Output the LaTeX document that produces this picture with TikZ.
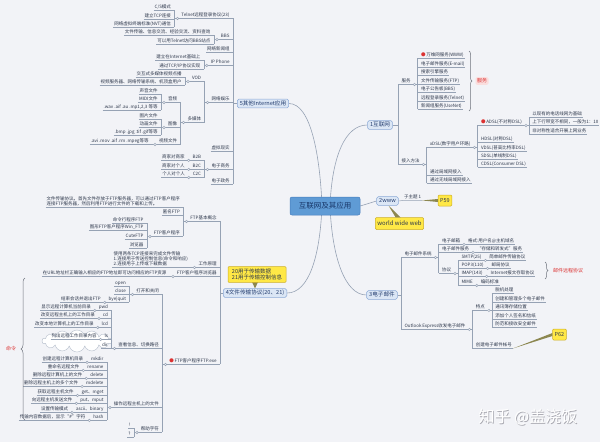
\documentclass[tikz,border=0pt]{standalone}
\usepackage{fontspec}
\newfontfamily\cjk{Noto Sans CJK SC}
\usetikzlibrary{calc,decorations.pathreplacing,shapes.symbols}
\definecolor{bgc}{RGB}{242,243,247}
\definecolor{linec}{RGB}{150,162,180}
\definecolor{txt}{RGB}{45,55,75}
\definecolor{mainfill}{RGB}{219,230,245}
\definecolor{maindraw}{RGB}{140,170,215}
\definecolor{maintext}{RGB}{35,60,110}
\definecolor{cfill}{RGB}{95,155,213}
\definecolor{cdraw}{RGB}{70,125,190}
\definecolor{ctext}{RGB}{25,55,105}
\definecolor{yfill}{RGB}{255,232,70}
\definecolor{ydraw}{RGB}{205,175,40}
\definecolor{olivec}{RGB}{140,135,80}
\definecolor{redc}{RGB}{220,50,50}
\definecolor{pinkc}{RGB}{250,222,222}
\definecolor{wmc}{RGB}{170,170,178}
\definecolor{bracec}{RGB}{110,115,125}
\pgfdeclarelayer{back}
\pgfsetlayers{back,main}
\newcommand\fsm{\fontsize{4.5}{5.2}\selectfont}
\tikzset{
 leaf/.style={font=\cjk\fsm, text=txt, inner xsep=0.8pt, inner ysep=1pt, text height=3.6pt, text depth=0.9pt},
 leafm/.style={font=\cjk\fontsize{4.5}{5}\selectfont, text=txt, inner sep=1pt, align=left},
 conn/.style={draw=linec, line width=0.5pt},
 knob/.style={circle, draw=linec, fill=bgc, inner sep=0pt, minimum size=2.6pt, line width=0.45pt},
 mainbox/.style={draw=maindraw, fill=mainfill, rounded corners=1.5pt, font=\cjk\fontsize{5.6}{6.5}\selectfont, text=maintext, inner xsep=2.5pt, inner ysep=1.5pt, text height=4.4pt, text depth=1.2pt, line width=0.5pt},
 ybox/.style={draw=ydraw, fill=yfill, rounded corners=1pt, text=txt, line width=0.5pt},
 bracedeco/.style={draw=bracec, line width=0.5pt, decorate, decoration={brace, amplitude=3pt}},
 wedge/.style={fill=olivec},
 wmark/.style={font=\cjk\fontsize{16}{18}\selectfont, inner sep=0pt},
}
\newcommand\kidL[4]{%
  \node[leaf,anchor=east] (#1) at ($(#2 |- 0,#3)+(-2.5,0)$) {#4};
  \draw[conn] (#1.south west) -- (#2 |- #1.south);}
\newcommand\pairL[5]{%
  \node[leaf,anchor=east] (#1) at ($(#2 |- 0,#3)+(-2.5,0)$) {#4};
  \node[leaf,anchor=east] (#1d) at ($(#1.west)+(-6,0)$) {#5};
  \draw[conn] (#1d.south west) -- (#2 |- #1.south);
  \node[knob] (#1k) at ($(#1.south west)+(-3,0)$) {};}
\newcommand\parL[5]{%
  \kidL{#1}{#2}{#3}{#4}%
  \coordinate (#5) at ($(#1.south west)+(-6,0)$);
  \draw[conn] (#1.south west) -- (#5);
  \node[knob] (#1k) at ($(#1.south west)+(-3,0)$) {};}
\newcommand\kidR[4]{%
  \node[leaf,anchor=west] (#1) at ($(#2 |- 0,#3)+(2.5,0)$) {#4};
  \draw[conn] (#2 |- #1.south) -- (#1.south east);}
\newcommand\pairR[5]{%
  \node[leaf,anchor=west] (#1) at ($(#2 |- 0,#3)+(2.5,0)$) {#4};
  \node[leaf,anchor=west] (#1d) at ($(#1.east)+(6,0)$) {#5};
  \draw[conn] (#2 |- #1.south) -- (#1d.south east);
  \node[knob] (#1k) at ($(#1.south east)+(3,0)$) {};}
\newcommand\parR[5]{%
  \kidR{#1}{#2}{#3}{#4}%
  \coordinate (#5) at ($(#1.south east)+(6,0)$);
  \draw[conn] (#1.south east) -- (#5);
  \node[knob] (#1k) at ($(#1.south east)+(3,0)$) {};}
\newcommand\busv[3]{\draw[conn] (#1 |- #2.south) -- (#1 |- #3.south);}

\begin{document}
\begin{tikzpicture}[x=1pt,y=-1pt]
\useasboundingbox (0,0) rectangle (600,442);
\begin{pgfonlayer}{back}
\fill[bgc] (0,0) rectangle (600,442);
\end{pgfonlayer}

% ---------- central and main topics ----------
\node[draw=cdraw, fill=cfill, rounded corners=2pt, minimum width=70pt, minimum height=18pt, inner sep=0pt, font=\cjk\fontsize{7.5}{8}\selectfont, text=ctext, line width=0.5pt] (ctr) at (325,206) {互联网及其应用};
\node[mainbox] (n1) at (380,125) {1互联网};
\node[mainbox] (n2) at (387.5,201) {2www};
\node[mainbox] (n3) at (382,295) {3电子邮件};
\node[mainbox, anchor=west] (n4) at (223,293) {4文件传输协议(20、21)};
\node[mainbox, anchor=west] (n5) at (237,103.5) {5其他Internet应用};

\begin{pgfonlayer}{back}
\draw[conn, line width=0.6pt] (n5.east) .. controls +(22,0) and +(-2,-50) .. ([xshift=-3pt]ctr.center);
\draw[conn, line width=0.6pt] (n1.west) .. controls +(-22,0) and +(2,-50) .. ([xshift=5pt]ctr.center);
\draw[conn, line width=0.6pt] (n4.east) .. controls +(22,0) and +(-2,50) .. ([xshift=-3pt]ctr.center);
\draw[conn, line width=0.6pt] (n3.west) .. controls +(-22,0) and +(2,50) .. ([xshift=5pt]ctr.center);
\draw[conn, line width=0.6pt] (ctr.east) -- (n2.west);
\end{pgfonlayer}

% ---------- 5 其他Internet应用 ----------
\coordinate (B5) at (233,0);
\draw[conn] (n5.west) -- (B5 |- n5.west);
\parL{telnet}{B5}{15}{Telnet远程登录协议(23)}{Btel}
\kidL{tcs}{Btel}{7}{C/S模式}
\kidL{ttcp}{Btel}{16}{建立TCP连接}
\kidL{tnvt}{Btel}{24}{网络虚拟终端标准(NVT)通信}
\busv{Btel}{tcs}{tnvt}
\parL{bbs}{B5}{36}{BBS}{Bbbs}
\kidL{bbsa}{Bbbs}{32}{文件传输、信息交流、经验交流、资料查询}
\kidL{bbsb}{Bbbs}{41}{可以用Telnet访问BBS站点}
\busv{Bbbs}{bbsa}{bbsb}
\kidL{news}{B5}{49}{网络新闻组}
\parL{ipp}{B5}{62}{IP Phone}{Bipp}
\kidL{ipa}{Bipp}{57}{建立在Internet基础上}
\kidL{ipb}{Bipp}{66}{通过TCP/IP协议实现}
\busv{Bipp}{ipa}{ipb}
\parL{ent}{B5}{99}{网络娱乐}{Bent}
\parL{vod}{Bent}{78}{VOD}{Bvod}
\kidL{voda}{Bvod}{74}{交互式多媒体视频点播}
\kidL{vodb}{Bvod}{82}{视频服务器、网络传输系统、机顶盒用户}
\busv{Bvod}{voda}{vodb}
\parL{mm}{Bent}{119}{多媒体}{Bmm}
\busv{Bent}{vod}{mm}
\parL{aud}{Bmm}{99}{音频}{Baud}
\kidL{auda}{Baud}{91}{声音文件}
\kidL{audb}{Baud}{99}{MIDI文件}
\kidL{audc}{Baud}{107}{.wav .aif .au .mp1,2,3 等等}
\busv{Baud}{auda}{audc}
\parL{img}{Bmm}{124}{图像}{Bimg}
\kidL{imga}{Bimg}{116}{图片文件}
\kidL{imgb}{Bimg}{124}{动画文件}
\kidL{imgc}{Bimg}{132}{.bmp .jpg .tif .gif等等}
\busv{Bimg}{imga}{imgc}
\parL{vid}{Bmm}{141}{视频文件}{Bvid}
\kidL{vida}{Bvid}{141}{.avi .mov .aif .rm .mpeg等等}
\busv{Bmm}{aud}{vid}
\kidL{vr}{B5}{148}{虚拟现实}
\parL{ec}{B5}{166}{电子商务}{Bec}
\pairL{btb}{Bec}{157}{B2B}{商家对商家}
\pairL{btc}{Bec}{166}{B2C}{商家对个人}
\pairL{ctc}{Bec}{174}{C2C}{个人对个人}
\busv{Bec}{btb}{ctc}
\kidL{eg}{B5}{181}{电子政务}
\busv{B5}{telnet}{eg}

% ---------- 4 文件传输协议 ----------
\coordinate (B4) at (220,0);
\draw[conn] (n4.west) -- (B4 |- n4.west);
\parL{fbase}{B4}{218}{FTP基本概念}{Bfb}
\node[leafm, anchor=south east] (fdesc) at ($(Bfb |- 0,207)+(-2.5,0)$) {文件传输协议。首先文件存放于FTP服务器，可以通过FTP客户程序\\连接FTP服务器，然后利用FTP进行文件的下载和上传。};
\draw[conn] (fdesc.south west) -- (Bfb |- fdesc.south);
\kidL{anon}{Bfb}{212}{匿名FTP}
\parL{fcli}{Bfb}{233}{FTP客户程序}{Bfc}
\kidL{fca}{Bfc}{220}{命令行程序FTP}
\kidL{fcb}{Bfc}{227}{图形FTP客户程序Win\_FTP}
\kidL{fcc}{Bfc}{236}{CuteFTP}
\kidL{fcd}{Bfc}{245}{浏览器}
\busv{Bfc}{fca}{fcd}
\busv{Bfb}{fdesc}{fcli}
\parL{work}{B4}{264}{工作原理}{Bwk}
\node[leafm, anchor=south east] (wdesc) at ($(Bwk |- work.south)+(-2.5,0)$) {使用两条TCP连接来完成文件传输\\1.连接用于传送控制信息(命令和响应)\\2.连接用于上传或下载数据};
\draw[conn] (wdesc.south west) -- (Bwk |- wdesc.south);
\parL{fbro}{B4}{273}{FTP客户程序浏览器}{Bbr}
\kidL{fbroa}{Bbr}{273}{在URL地址栏正确输入相应的FTP地址即可访问相应的FTP资源}
\parL{fexe}{B4}{361}{{\color{redc}●}\,FTP客户程序FTP.exe}{Bexe}
\busv{B4}{fbase}{fexe}
% open / close
\parL{oc}{Bexe}{291}{打开和关闭}{Boc}
\kidL{open}{Boc}{283}{open}
\kidL{close}{Boc}{291}{close}
\pairL{bye}{Boc}{299}{bye|quit}{结束会话并退出FTP}
\busv{Boc}{open}{bye}
% view
\node[cloud, cloud puffs=14, aspect=3.2, draw=linec!70, fill=white, line width=0.4pt, minimum width=70pt, minimum height=22pt, inner sep=0pt] (cld) at (77,341) {};
\parL{view}{Bexe}{345}{查看信息、切换路径}{Bvw}
\pairL{pwd}{Bvw}{307}{pwd}{显示远程计算机当前目录}
\pairL{cdir}{Bvw}{315}{cd}{改变远程主机上的工作目录}
\pairL{lcdir}{Bvw}{324}{lcd}{改变本地计算机上的工作目录}
\pairL{ls}{Bvw}{336}{ls}{列出远程工作目录内容}
\kidL{dir}{Bvw}{345}{dir}
\busv{Bvw}{pwd}{dir}
% operate
\parL{ops}{Bexe}{404}{操作远程主机上的文件}{Bops}
\pairL{mkd}{Bops}{359}{mkdir}{创建远程计算机目录}
\pairL{ren}{Bops}{367}{rename}{重命名远程文件}
\pairL{dele}{Bops}{375}{delete}{删除远程计算机上的文件}
\pairL{mdel}{Bops}{383}{mdelete}{删除远程主机上的多个文件}
\pairL{getf}{Bops}{392}{get、mget}{获取远程主机文件}
\pairL{putf}{Bops}{400}{put、mput}{向远程主机发送文件}
\pairL{asc}{Bops}{409}{ascii、binary}{设置传输模式}
\pairL{hsh}{Bops}{417}{hash}{传输内容数据后，显示“\#”字符}
\busv{Bops}{mkd}{hsh}
% help
\parL{help}{Bexe}{429}{帮助字符}{Bhp}
\kidL{exc}{Bhp}{425}{!}
\kidL{qmk}{Bhp}{434}{?}
\busv{Bhp}{exc}{qmk}
\busv{Bexe}{oc}{help}
% brace 命令
\draw[bracedeco, decoration={brace, amplitude=4pt}] (25,420) -- (25,278);
\node[font=\cjk\fontsize{5}{6}\selectfont, text=redc, inner sep=1pt] (cmdlab) at (11,349) {命令};

% callout 20/21
\fill[wedge] (n4.north) -- ([xshift=-3pt]n4.north |- 0,282) -- ([xshift=3pt]n4.north |- 0,282) -- cycle;
\node[ybox, font=\cjk\fontsize{5.5}{6.8}\selectfont, align=left, inner sep=2pt, minimum width=58pt] (c2021) at (257,274.5) {20用于传输数据\\21用于传输控制信息};

% ---------- 1 互联网 ----------
\coordinate (B1) at (398,0);
\draw[conn] (n1.east) -- (B1 |- n1.east);
\parR{svc}{B1}{81}{服务}{Bsv}
\kidR{sa}{Bsv}{55}{{\color{redc}●}\,万维网服务(WWW)}
\kidR{sb}{Bsv}{64}{电子邮件服务(E-mail)}
\kidR{sc}{Bsv}{72}{搜索引擎服务}
\kidR{sd}{Bsv}{81}{文件传输服务(FTP)}
\kidR{se}{Bsv}{89}{电子公告板(BBS)}
\kidR{sf}{Bsv}{98}{远程登录服务(Telnet)}
\kidR{sg}{Bsv}{106}{新闻组服务(UseNet)}
\busv{Bsv}{sa}{sg}
\draw[bracedeco] (469,51) -- (469,111);
\node[fill=pinkc, rounded corners=1.5pt, text=redc, font=\cjk\fontsize{5}{6}\selectfont, inner sep=1.5pt] (svlab) at (482,81) {服务};
\parR{acc}{B1}{161}{接入方法}{Bac}
\parR{xdsl}{Bac}{144}{xDSL(数字用户环路)}{Bxd}
\parR{adsl}{Bxd}{122}{{\color{redc}●}\,ADSL(不对称DSL)}{Bad}
\kidR{ada}{Bad}{114}{以现有的电话线网为基础}
\kidR{adb}{Bad}{122}{上下行带宽不相同，一般为1：10}
\kidR{adc}{Bad}{131}{非对称性适合开展上网业务}
\busv{Bad}{ada}{adc}
\kidR{hdsl}{Bxd}{139}{HDSL(对称DSL)}
\kidR{vdsl}{Bxd}{148}{VDSL(甚高比特率DSL)}
\kidR{sdsl}{Bxd}{156}{SDSL(单线制DSL)}
\kidR{cdsl}{Bxd}{164}{CDSL(Consumer DSL)}
\busv{Bxd}{adsl}{cdsl}
\kidR{lan}{Bac}{172}{通过局域网接入}
\kidR{wlan}{Bac}{180}{通过无线局域网接入}
\busv{Bac}{xdsl}{wlan}
\busv{B1}{svc}{acc}

% ---------- 2 www ----------
\node[leaf, anchor=west] (sub1) at (403,197) {子主题 1};
\draw[conn] (n2.east) -- (sub1.south west) -- (sub1.south east);
\node[ybox, font=\cjk\fontsize{5.5}{6}\selectfont, inner sep=2pt, minimum height=11pt] (p59) at (445,200.5) {P59};
\fill[wedge] (sub1.south east) -- ([yshift=-1.5pt]p59.west) -- ([yshift=1.5pt]p59.west) -- cycle;
\node[ybox, font=\cjk\fontsize{6}{7}\selectfont, inner sep=2pt, minimum height=12pt] (www) at (399.5,223.5) {world wide web};
\fill[wedge] ([xshift=1pt]n2.south) -- ([xshift=-4pt]www.north) -- ([xshift=1pt]www.north) -- cycle;

% ---------- 3 电子邮件 ----------
\coordinate (B3) at (401,0);
\draw[conn] (n3.east) -- (B3 |- n3.east);
\parR{esys}{B3}{254}{电子邮件系统}{Bes}
\pairR{mbox}{Bes}{241}{电子邮箱}{格式:用户名@主机域名}
\pairR{msvc}{Bes}{249}{电子邮件服务}{“存储和转发式”服务}
\parR{proto}{Bes}{270}{协议}{Bpr}
\pairR{smtp}{Bpr}{257}{SMTP(25)}{简单邮件传输协议}
\pairR{pop}{Bpr}{265}{POP3(110)}{邮局协议}
\pairR{imap}{Bpr}{273}{IMAP(143)}{Internet报文存取协议}
\pairR{mime}{Bpr}{282}{MIME}{编码标准}
\busv{Bpr}{smtp}{mime}
\busv{Bes}{mbox}{proto}
\draw[bracedeco] (545,262) -- (545,279);
\node[text=redc, font=\cjk\fontsize{5}{6}\selectfont, inner sep=1pt] (rproto) at (568,270.5) {邮件远程协议};
\parR{oe}{B3}{326}{Outlook Express收发电子邮件}{Boe}
\parR{feat}{Boe}{307}{特点}{Bft}
\kidR{fa}{Bft}{290}{脱机处理}
\kidR{fb}{Bft}{299}{创建和管理多个电子邮件}
\kidR{fc}{Bft}{307}{通讯簿存储位置}
\kidR{fd}{Bft}{316}{添加个人签名和信纸}
\kidR{fe}{Bft}{324}{防范和接收安全邮件}
\busv{Bft}{fa}{fe}
\kidR{acct}{Boe}{345}{创建电子邮件帐号}
\busv{Boe}{feat}{acct}
\busv{B3}{esys}{oe}
\node[ybox, font=\cjk\fontsize{5.5}{6}\selectfont, inner sep=2pt, minimum height=11pt] (p62) at (559.5,334.5) {P62};
\fill[wedge] (acct.south east) -- ([yshift=-1.5pt]p62.west) -- ([yshift=1.5pt]p62.west) -- cycle;

% watermark (white text with grey shadow)
\node[wmark, text=wmc] (wmshadow) at (528.8,417.8) {知乎 @盖浇饭};
\node[wmark, text=white] (wm) at (528,417) {知乎 @盖浇饭};
\end{tikzpicture}
\end{document}
